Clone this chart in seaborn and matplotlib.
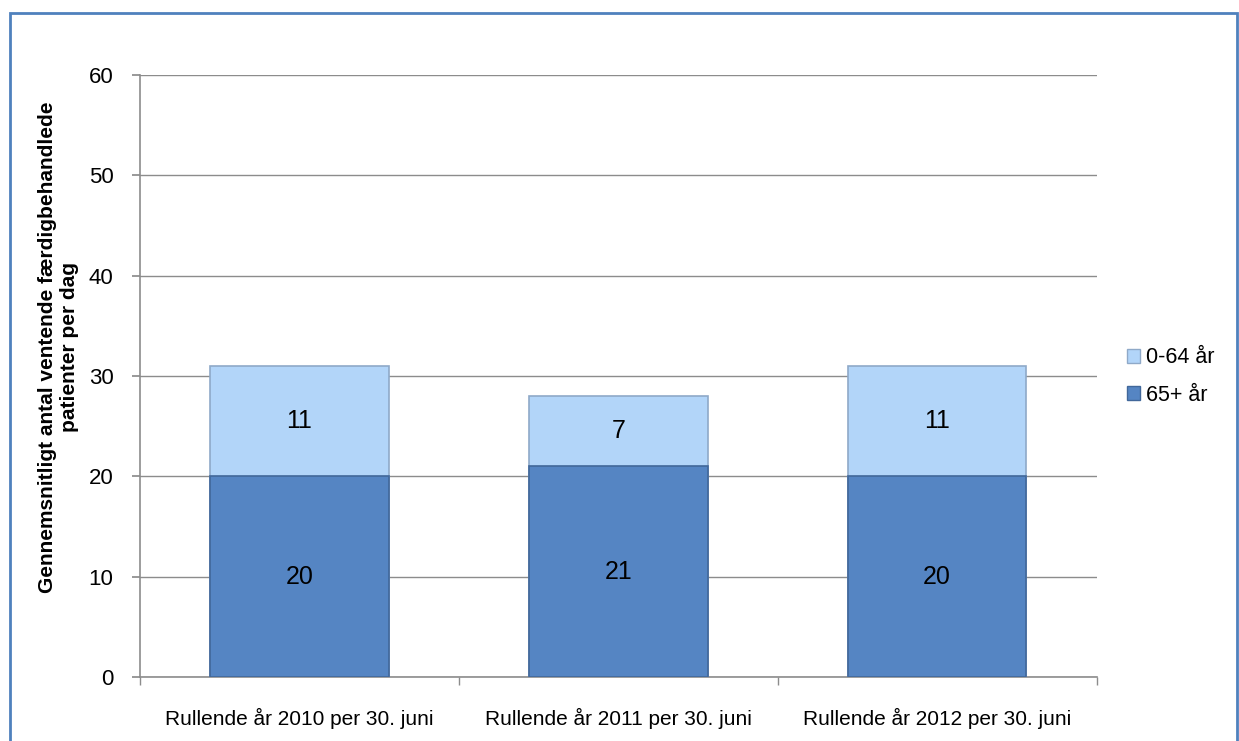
import numpy as np
import pandas as pd
import seaborn as sns
import matplotlib.pyplot as plt
from matplotlib.patches import Rectangle, Patch

categories = ["Rullende år 2010 per 30. juni",
              "Rullende år 2011 per 30. juni",
              "Rullende år 2012 per 30. juni"]
age_65_plus = [20, 21, 20]
age_0_64 = [11, 7, 11]
yticks = [0, 10, 20, 30, 40, 50, 60]

sns.set_theme(style="white")
plt.rcParams['font.family'] = ['Liberation Sans', 'DejaVu Sans']
plt.rcParams['text.color'] = 'black'
plt.rcParams['axes.labelcolor'] = 'black'
plt.rcParams['xtick.color'] = 'black'
plt.rcParams['ytick.color'] = 'black'

df = pd.DataFrame({"kategori": categories,
                   "65+ år": age_65_plus,
                   "0-64 år": age_0_64})
df["total"] = df["65+ år"] + df["0-64 år"]

dark = "#5585C3"
light = "#B2D5F9"

fig = plt.figure(figsize=(12.39, 7.41), dpi=100)
ax = fig.add_axes([0.113, 0.0864, 0.772, 0.8124])

# stacked: draw totals first, then the bottom segment on top
sns.barplot(data=df, x="kategori", y="total", color=light, width=0.56,
            saturation=1, edgecolor="#8FA9C8", linewidth=1.2, ax=ax, zorder=3)
sns.barplot(data=df, x="kategori", y="65+ år", color=dark, width=0.56,
            saturation=1, edgecolor="#41679A", linewidth=1.2, ax=ax, zorder=4)

for i, row in df.iterrows():
    ax.text(i, row["65+ år"] / 2, str(row["65+ år"]), ha="center", va="center",
            fontsize=18, color="black", zorder=6)
    ax.text(i, row["65+ år"] + row["0-64 år"] / 2, str(row["0-64 år"]),
            ha="center", va="center", fontsize=18, color="black", zorder=6)

ax.set_xlim(-0.5, 2.5)
ax.set_ylim(0, 60)
ax.set_yticks(yticks)
ax.yaxis.grid(True, color="#8C8C8C", linewidth=1)
ax.set_axisbelow(True)
for s in ["top", "right"]:
    ax.spines[s].set_visible(False)
for s in ["left", "bottom"]:
    ax.spines[s].set_color("#8C8C8C")
    ax.spines[s].set_linewidth(1.2)

ax.tick_params(axis="y", which="major", left=True, length=6, color="#8C8C8C",
               labelsize=16, pad=13)
ax.set_xticks([0, 1, 2])
ax.set_xticklabels(categories, fontsize=15)
ax.tick_params(axis="x", which="major", bottom=False, pad=16)
ax.set_xticks([-0.5, 0.5, 1.5, 2.5], minor=True)
ax.tick_params(axis="x", which="minor", bottom=True, length=6, color="#8C8C8C")

ax.set_xlabel("")
ax.set_ylabel("Gennemsnitligt antal ventende færdigbehandlede\npatienter per dag",
              fontsize=15, fontweight="bold")
ax.yaxis.set_label_coords(-0.064, 0.548)

handles = [Patch(facecolor=light, edgecolor="#8FA9C8", label="0-64 år"),
           Patch(facecolor=dark, edgecolor="#41679A", label="65+ år")]
fig.legend(handles=handles, loc="center left", bbox_to_anchor=(0.894, 0.492),
           frameon=False, fontsize=15.5, handlelength=0.6, handleheight=0.6,
           handletextpad=0.3, labelspacing=0.75)

fig.patches.append(Rectangle((0.008, -0.01), 0.99, 0.993, transform=fig.transFigure,
                             fill=False, edgecolor="#4F81BD", linewidth=2))

fig.savefig("out.png", dpi=100)
